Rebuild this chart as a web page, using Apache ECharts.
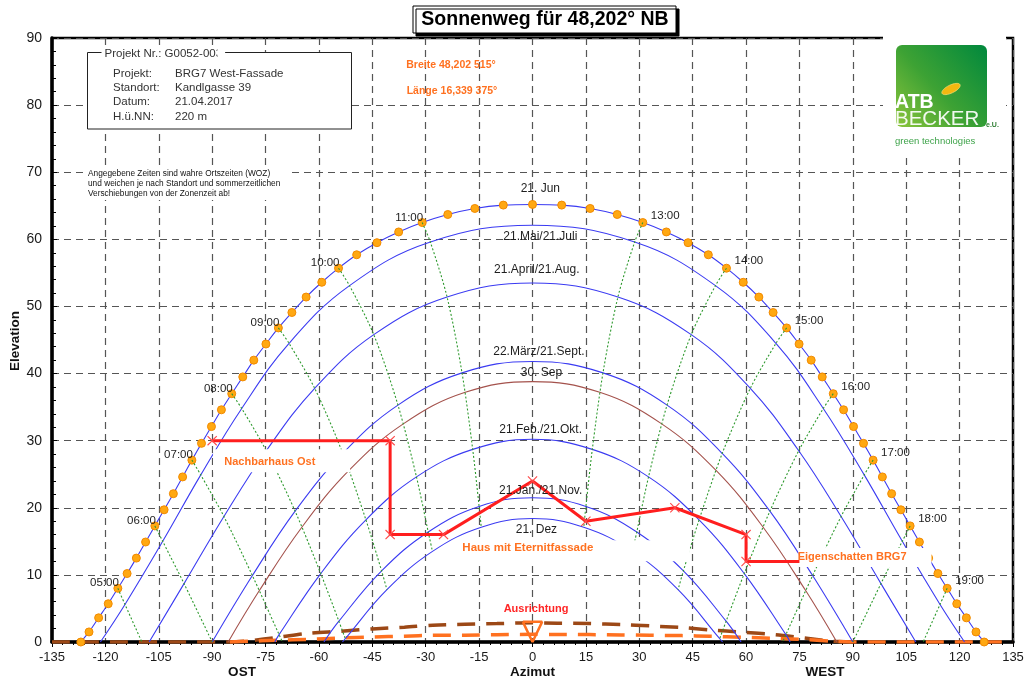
<!DOCTYPE html>
<html>
<head>
<meta charset="utf-8">
<title>Sonnenweg für 48,202° NB</title>
<script src="https://cdn.jsdelivr.net/npm/echarts/dist/echarts.min.js"></script>
<style>
  html, body { margin: 0; padding: 0; background: #fff; }
  #chart { width: 1027px; height: 680px; }
</style>
</head>
<body>
<div id="chart"></div>
<script>
// ---- Sun positions (azimuth from south, west positive; elevation in degrees) ----

// 21 June, every 15 minutes from 04:00 to 20:00 (true solar time)
const juneAz = [-126.9,-124.6,-121.9,-119.2,-116.5,-113.9,-111.3,-108.7,-106.1,-103.5,-100.9,-98.3,-95.7,-93.0,-90.2,-87.4,
  -84.5,-81.4,-78.3,-74.9,-71.4,-67.6,-63.6,-59.2,-54.5,-49.4,-43.7,-37.6,-31.0,-23.8,-16.2,-8.2,0,
  8.2,16.2,23.8,31.0,37.6,43.7,49.4,54.5,59.2,63.6,67.6,71.4,74.9,78.3,81.4,84.5,
  87.4,90.2,93.0,95.7,98.3,100.9,103.5,106.1,108.7,111.3,113.9,116.5,119.2,121.9,124.6,126.9];
const juneEl = [0,1.5,3.6,5.7,8.0,10.2,12.5,14.9,17.3,19.7,22.1,24.6,27.1,29.6,32.1,34.6,
  37.0,39.5,42.0,44.4,46.8,49.1,51.4,53.6,55.7,57.7,59.5,61.1,62.5,63.7,64.6,65.1,65.2,
  65.1,64.6,63.7,62.5,61.1,59.5,57.7,55.7,53.6,51.4,49.1,46.8,44.4,42.0,39.5,37.0,
  34.6,32.1,29.6,27.1,24.6,22.1,19.7,17.3,14.9,12.5,10.2,8.0,5.7,3.6,1.5,0];

// Full hours for the other dates
const hours = [5,6,7,8,9,10,11,12,13,14,15,16,17,18,19];
const hourText = ['05:00','06:00','07:00','08:00','09:00','10:00','11:00','12:00','13:00','14:00','15:00','16:00','17:00','18:00','19:00'];

const mayAz = [-114.5,-103.9,-93.2,-81.7,-68.4,-51.4,-28.7,0,28.7,51.4,68.4,81.7,93.2,103.9,114.5];
const mayEl = [5.6,15.0,24.9,34.8,44.5,53.1,59.6,62.1,59.6,53.1,44.5,34.8,24.9,15.0,5.6];
const mayRise = 121.4;

const aprAz = [-108.9,-97.9,-86.7,-74.8,-61.2,-44.6,-24.0,0,24.0,44.6,61.2,74.8,86.7,97.9,108.9];
const aprEl = [-1.0,8.7,18.7,28.5,37.8,45.8,51.4,53.5,51.4,45.8,37.8,28.5,18.7,8.7,-1.0];
const aprRise = 107.7;

const marAz = [null,-90,-78.7,-66.7,-53.3,-37.8,-19.8,0,19.8,37.8,53.3,66.7,78.7,90,null];
const marEl = [null,0,9.9,19.5,28.1,35.3,40.1,41.8,40.1,35.3,28.1,19.5,9.9,0,null];
const marRise = 90;

const sepAz = [null,null,-76.7,-64.8,-51.5,-36.3,-18.9,0,18.9,36.3,51.5,64.8,76.7,null,null];
const sepEl = [null,null,7.7,17.1,25.6,32.5,37.2,38.8,37.2,32.5,25.6,17.1,7.7,null,null];
const sepRise = 85.5;

const febAz = [null,null,-71.2,-59.5,-46.8,-32.6,-16.8,0,16.8,32.6,46.8,59.5,71.2,null,null];
const febEl = [null,null,1.1,10.2,18.2,24.6,28.7,30.2,28.7,24.6,18.2,10.2,1.1,null,null];
const febRise = 72.4;

const janAz = [null,null,-65.5,-54.4,-42.4,-29.3,-15.0,0,15.0,29.3,42.4,54.4,65.5,null,null];
const janEl = [null,null,-5.6,3.1,10.6,16.4,20.2,21.5,20.2,16.4,10.6,3.1,-5.6,null,null];
const janRise = 58.6;

const decAz = [null,null,null,-52.6,-40.9,-28.1,-14.4,0,14.4,28.1,40.9,52.6,null,null,null];
const decEl = [null,null,null,0.5,7.8,13.5,17.1,18.4,17.1,13.5,7.8,0.5,null,null,null];
const decRise = 53.4;

// Obstruction outline (neighbouring buildings, own shadow)
const obstacleAz = [-90,-40,-40,-25,0,15,40,60,60,75];
const obstacleEl = [30,30,16,16,24,18,20,16,12,12];

// Facade horizon lines
const horizonBrownAz = [-135,-85,-80,-71,-63,-54,-45,-36,-28,-19,-10,0,7,16,25,33,42,50,59,68,77,85,90];
const horizonBrownEl = [0,0,0.15,0.75,1.3,1.6,1.95,2.2,2.5,2.65,2.75,2.85,2.8,2.75,2.6,2.4,2.15,1.8,1.45,1.1,0.55,0.1,0];
const horizonOrangeAz = [-85,-80,-72,-63,-54,-45,-36,-28,-19,-10,0,7,16,25,33,42,50,59,68,77,85,90,135];
const horizonOrangeEl = [0,0.1,0.25,0.4,0.6,0.75,0.87,1.0,1.02,1.09,1.14,1.12,1.1,1.05,1.0,0.95,0.85,0.7,0.55,0.35,0.1,0,0];

// Orientation marker
const markerAz = [-2.7,2.7,0,-2.7];
const markerEl = [3.0,3.0,0,3.0];

// ---- Styling ----
const FONT = '"Liberation Sans", Arial, Helvetica, sans-serif';
const BLUE = '#3b3bf2';
const BROWN = '#a4524c';
const GREEN = '#2f9a2f';
const RED = '#ff1e1e';
const ORANGE = '#ff7120';

const pair = (az, el) => az.map((a, i) => (a === null ? null : [a, el[i]]));

function dayCurve(az, el, rise) {
  const pts = [[-rise, 0]];
  az.forEach((a, i) => { if (a !== null && el[i] > 0) pts.push([a, el[i]]); });
  pts.push([rise, 0]);
  return pts;
}

const series = [];

// horizon dashed lines
series.push({
  type: 'line', data: pair(horizonBrownAz, horizonBrownEl), smooth: 0.3,
  symbol: 'none', silent: true, z: 2,
  lineStyle: { color: '#9c4816', width: 3.5, type: [18, 11] }
});
series.push({
  type: 'line', data: pair(horizonOrangeAz, horizonOrangeEl), smooth: 0.3,
  symbol: 'none', silent: true, z: 2,
  lineStyle: { color: ORANGE, width: 3.5, type: [18, 11] }
});

// day curves
const dayDefs = [
  { az: mayAz, el: mayEl, rise: mayRise, color: BLUE },
  { az: aprAz, el: aprEl, rise: aprRise, color: BLUE },
  { az: marAz, el: marEl, rise: marRise, color: BLUE },
  { az: sepAz, el: sepEl, rise: sepRise, color: BROWN },
  { az: febAz, el: febEl, rise: febRise, color: BLUE },
  { az: janAz, el: janEl, rise: janRise, color: BLUE },
  { az: decAz, el: decEl, rise: decRise, color: BLUE }
];
dayDefs.forEach(d => {
  series.push({
    type: 'line', data: dayCurve(d.az, d.el, d.rise), smooth: 0.4,
    symbol: 'none', silent: true, z: 3,
    lineStyle: { color: d.color, width: 1.1 }
  });
});

// 21 June with quarter-hour dots
series.push({
  type: 'line', data: pair(juneAz, juneEl), smooth: 0.3,
  symbol: 'circle', symbolSize: 8, showAllSymbol: true, silent: true, z: 3,
  lineStyle: { color: BLUE, width: 1.1 },
  itemStyle: { color: '#ffa812', borderColor: '#f28a00', borderWidth: 1, opacity: 1 }
});

// hour lines through June, May, April, March, February, January, December
const juneHourly = hours.map(h => [juneAz[(h - 4) * 4], juneEl[(h - 4) * 4]]);
const hourSets = [juneHourly, pair(mayAz, mayEl), pair(aprAz, aprEl), pair(marAz, marEl),
  pair(febAz, febEl), pair(janAz, janEl), pair(decAz, decEl)];
hours.forEach((h, idx) => {
  if (h === 12) return;
  const pts = [];
  for (const set of hourSets) {
    const p = set[idx];
    if (!p) continue;
    pts.push(p);
    if (p[1] <= 0) break;
  }
  series.push({
    type: 'line', data: pts, smooth: 0.3, symbol: 'none', silent: true, z: 4,
    lineStyle: { color: GREEN, width: 1.1, type: [2, 2] }
  });
});

// orientation marker
series.push({
  type: 'line', data: pair(markerAz, markerEl), symbol: 'none', silent: true, z: 5,
  lineStyle: { color: ORANGE, width: 2.5 }
});

// white label boxes in the plot
const labelBoxes = [
  { az: -70.5, el: 27.0, w: 137, h: 23 },
  { az: 10.8, el: 13.6, w: 238, h: 21 },
  { az: 93.4, el: 12.6, w: 133, h: 19 }
];
series.push({
  type: 'scatter', silent: true, z: 5,
  data: labelBoxes.map(b => ({ value: [b.az, b.el], symbol: 'rect', symbolSize: [b.w, b.h] })),
  itemStyle: { color: '#ffffff', opacity: 1 }
});

// obstruction outline
const crossPath = 'path://M0,0.8L0.8,0L5,4.2L9.2,0L10,0.8L5.8,5L10,9.2L9.2,10L5,5.8L0.8,10L0,9.2L4.2,5Z';
series.push({
  type: 'line', silent: true, z: 6,
  data: obstacleAz.map((a, i) => ({
    value: [a, obstacleEl[i]],
    symbol: i === obstacleAz.length - 1 ? 'none' : crossPath
  })),
  symbolSize: 10,
  itemStyle: { color: '#ff4a4a', opacity: 1 },
  lineStyle: { color: RED, width: 3 }
});

// text labels placed in chart coordinates
const plotTexts = [
  { text: '21. Jun', az: 2.2, el: 67.6 },
  { text: '21.Mai/21.Juli', az: 2.2, el: 60.4 },
  { text: '21.April/21.Aug.', az: 1.2, el: 55.5 },
  { text: '22.März/21.Sept.', az: 1.8, el: 43.2 },
  { text: '30. Sep', az: 2.5, el: 40.1 },
  { text: '21.Feb./21.Okt.', az: 2.3, el: 31.7 },
  { text: '21.Jan./21.Nov.', az: 2.3, el: 22.5 },
  { text: '21. Dez', az: 1.1, el: 16.8 },
  { text: 'Nachbarhaus Ost', az: -73.8, el: 26.8, color: ORANGE, bold: true, size: 11 },
  { text: 'Haus mit Eternitfassade', az: -1.3, el: 14.0, color: ORANGE, bold: true, size: 11.5 },
  { text: 'Eigenschatten BRG7', az: 89.8, el: 12.7, color: ORANGE, bold: true, size: 11 },
  { text: 'Ausrichtung', az: 1.0, el: 4.9, color: '#ff2626', bold: true, size: 11 }
];
series.push({
  type: 'scatter', silent: true, z: 7, symbolSize: 0,
  itemStyle: { color: '#fff', opacity: 1 },
  data: plotTexts.map(t => ({
    value: [t.az, t.el],
    label: {
      show: true, position: 'inside', formatter: t.text, opacity: 1,
      color: t.color || '#1e1e1e', fontSize: t.size || 12,
      fontWeight: t.bold ? 'bold' : 'normal', fontFamily: FONT
    }
  }))
});

// hour labels at the June dots
series.push({
  type: 'scatter', silent: true, z: 7, symbolSize: 0,
  itemStyle: { color: '#fff', opacity: 1 },
  data: hours.map((h, idx) => h === 12 ? null : ({
    value: juneHourly[idx],
    label: {
      show: true, formatter: hourText[idx], fontSize: 11.5, color: '#1e1e1e', fontFamily: FONT, opacity: 1,
      position: h < 12 ? 'left' : 'right', distance: h < 12 ? 0 : 8,
      offset: h < 12 ? [1, -5] : [0, -7]
    }
  })).filter(Boolean)
});

// ---- Decorations drawn in pixel space ----
const graphic = [
  // title box
  { type: 'rect', z: 50, shape: { x: 413, y: 6, width: 263, height: 27 },
    style: { fill: '#fff', stroke: '#000', lineWidth: 1, shadowColor: '#000', shadowOffsetX: 3, shadowOffsetY: 3, shadowBlur: 0 } },
  { type: 'text', z: 51, x: 545, y: 20,
    style: { text: 'Sonnenweg für 48,202° NB', fontFamily: FONT, fontSize: 19.5, fontWeight: 'bold', fill: '#000', align: 'center', verticalAlign: 'middle' } },

  // project info box
  { type: 'rect', z: 50, shape: { x: 87.5, y: 52.5, width: 264, height: 76.5 },
    style: { fill: '#fff', stroke: '#222', lineWidth: 1 } },
  { type: 'text', z: 51, x: 101.5, y: 54,
    style: { text: 'Projekt Nr.: G0052-003', fontFamily: FONT, fontSize: 11.5, fill: '#333', verticalAlign: 'middle',
      backgroundColor: '#fff', padding: [1, 3, 1, 3] } },
  { type: 'rect', z: 52, shape: { x: 217.5, y: 46, width: 4.5, height: 14 }, style: { fill: '#fff' } },
  { type: 'text', z: 51, x: 113, y: 74, style: { text: 'Projekt:', fontFamily: FONT, fontSize: 11.5, fill: '#333', verticalAlign: 'middle' } },
  { type: 'text', z: 51, x: 113, y: 88.3, style: { text: 'Standort:', fontFamily: FONT, fontSize: 11.5, fill: '#333', verticalAlign: 'middle' } },
  { type: 'text', z: 51, x: 113, y: 101.8, style: { text: 'Datum:', fontFamily: FONT, fontSize: 11.5, fill: '#333', verticalAlign: 'middle' } },
  { type: 'text', z: 51, x: 113, y: 116.5, style: { text: 'H.ü.NN:', fontFamily: FONT, fontSize: 11.5, fill: '#333', verticalAlign: 'middle' } },
  { type: 'text', z: 51, x: 175, y: 74, style: { text: 'BRG7 West-Fassade', fontFamily: FONT, fontSize: 11.5, fill: '#333', verticalAlign: 'middle' } },
  { type: 'text', z: 51, x: 175, y: 88.3, style: { text: 'Kandlgasse 39', fontFamily: FONT, fontSize: 11.5, fill: '#333', verticalAlign: 'middle' } },
  { type: 'text', z: 51, x: 175, y: 101.8, style: { text: '21.04.2017', fontFamily: FONT, fontSize: 11.5, fill: '#333', verticalAlign: 'middle' } },
  { type: 'text', z: 51, x: 175, y: 116.5, style: { text: '220 m', fontFamily: FONT, fontSize: 11.5, fill: '#333', verticalAlign: 'middle' } },

  // note on solar time
  { type: 'rect', z: 50, shape: { x: 86, y: 166, width: 206, height: 34 }, style: { fill: '#fff' } },
  { type: 'text', z: 51, x: 88, y: 173.5, style: { text: 'Angegebene Zeiten sind wahre Ortszeiten (WOZ)', fontFamily: FONT, fontSize: 8.3, fill: '#111', verticalAlign: 'middle' } },
  { type: 'text', z: 51, x: 88, y: 183.5, style: { text: 'und weichen je nach Standort und sommerzeitlichen', fontFamily: FONT, fontSize: 8.3, fill: '#111', verticalAlign: 'middle' } },
  { type: 'text', z: 51, x: 88, y: 193.5, style: { text: 'Verschiebungen von der Zonenzeit ab!', fontFamily: FONT, fontSize: 8.3, fill: '#111', verticalAlign: 'middle' } },

  // coordinates
  { type: 'text', z: 51, x: 451, y: 65, style: { text: 'Breite 48,202 515°', fontFamily: FONT, fontSize: 10.5, fontWeight: 'bold', fill: ORANGE, align: 'center', verticalAlign: 'middle' } },
  { type: 'text', z: 51, x: 452, y: 91, style: { text: 'Länge 16,339 375°', fontFamily: FONT, fontSize: 10.5, fontWeight: 'bold', fill: ORANGE, align: 'center', verticalAlign: 'middle' } },

  // company logo
  { type: 'rect', z: 50, shape: { x: 883, y: 28, width: 123, height: 126 }, style: { fill: '#fff' } },
  { type: 'rect', z: 51, shape: { x: 896, y: 45, width: 91, height: 82, r: 6 },
    style: { fill: new echarts.graphic.LinearGradient(0, 1, 1, 0, [
      { offset: 0, color: '#8cc53c' }, { offset: 0.45, color: '#3da234' }, { offset: 1, color: '#00883d' }]) } },
  { type: 'ellipse', z: 52, x: 951, y: 89, rotation: 0.45, shape: { cx: 0, cy: 0, rx: 10, ry: 4 },
    style: { fill: '#f3b810', stroke: '#ffe17a', lineWidth: 0.6 } },
  { type: 'text', z: 52, x: 895, y: 103, style: { text: 'ATB', fontFamily: FONT, fontSize: 19.5, fontWeight: 'bold', fill: '#fff', verticalAlign: 'middle' } },
  { type: 'text', z: 52, x: 895, y: 119, style: { text: 'BECKER', fontFamily: FONT, fontSize: 20.5, fill: 'rgba(255,255,255,0.92)', verticalAlign: 'middle' } },
  { type: 'text', z: 52, x: 986, y: 125, style: { text: 'e.U.', fontFamily: FONT, fontSize: 7, fontWeight: 'bold', fill: '#2e7d32', verticalAlign: 'middle' } },
  { type: 'text', z: 52, x: 895, y: 141, style: { text: 'green technologies', fontFamily: FONT, fontSize: 9.5, fill: '#3ea34a', verticalAlign: 'middle' } },

  // axis captions
  { type: 'text', z: 51, x: 242, y: 672, style: { text: 'OST', fontFamily: FONT, fontSize: 13.5, fontWeight: 'bold', fill: '#111', align: 'center', verticalAlign: 'middle' } },
  { type: 'text', z: 51, x: 532.5, y: 672, style: { text: 'Azimut', fontFamily: FONT, fontSize: 13.5, fontWeight: 'bold', fill: '#111', align: 'center', verticalAlign: 'middle' } },
  { type: 'text', z: 51, x: 825, y: 672, style: { text: 'WEST', fontFamily: FONT, fontSize: 13.5, fontWeight: 'bold', fill: '#111', align: 'center', verticalAlign: 'middle' } },
  { type: 'text', z: 51, x: 15, y: 341, rotation: Math.PI / 2,
    style: { text: 'Elevation', fontFamily: FONT, fontSize: 13.5, fontWeight: 'bold', fill: '#111', align: 'center', verticalAlign: 'middle' } }
];

const gridLine = { show: true, lineStyle: { color: '#555', width: 1.2, type: [7, 5] } };

const option = {
  animation: false,
  backgroundColor: '#fff',
  textStyle: { fontFamily: FONT },
  grid: { left: 52, right: 14, top: 38, bottom: 38, show: true, borderColor: '#000', borderWidth: 2.5,
    containLabel: false, outerBoundsMode: 'none' },
  xAxis: {
    type: 'value', min: -135, max: 135, interval: 15,
    axisLine: { show: true, onZero: false, lineStyle: { color: '#000', width: 3.5 } },
    axisTick: { show: true, inside: false, length: 5, lineStyle: { color: '#000' } },
    minorTick: { show: true, splitNumber: 5, length: 3, lineStyle: { color: '#000' } },
    axisLabel: { fontSize: 13, color: '#1a1a1a', margin: 9, fontFamily: FONT },
    splitLine: gridLine
  },
  yAxis: {
    type: 'value', min: 0, max: 90, interval: 10,
    axisLine: { show: true, onZero: false, lineStyle: { color: '#000', width: 3.5 } },
    axisTick: { show: true, inside: true, length: 5, lineStyle: { color: '#000' } },
    minorTick: { show: true, splitNumber: 5, length: 4, lineStyle: { color: '#000' } },
    axisLabel: { fontSize: 14, color: '#1a1a1a', margin: 10, fontFamily: FONT },
    splitLine: gridLine
  },
  series: series,
  graphic: graphic
};

const chart = echarts.init(document.getElementById('chart'), null, { renderer: 'canvas' });
chart.setOption(option);
</script>
</body>
</html>
